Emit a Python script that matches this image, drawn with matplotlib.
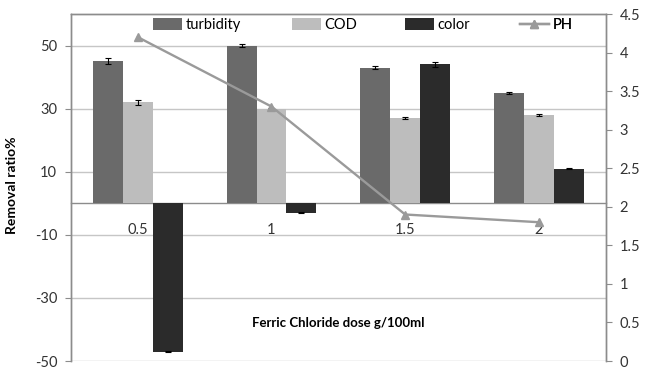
import numpy as np
import matplotlib.pyplot as plt

plt.rcParams['font.family'] = ['Lato', 'DejaVu Sans']
plt.rcParams['axes.unicode_minus'] = False

doses = ['0.5', '1', '1.5', '2']
turbidity = [45, 50, 43, 35]
turbidity_err = [1.0, 0.4, 0.4, 0.2]
cod = [32, 30, 27, 28]
cod_err = [0.7, 0.2, 0.2, 0.3]
color = [-47, -3, 44, 11]
color_err = [0.3, 0.2, 0.7, 0.2]
ph = [4.2, 3.3, 1.9, 1.8]

grey_axis = '#8c8c8c'
grid_c = '#c6c6c6'

fig = plt.figure(figsize=(6.48, 3.70), dpi=100)
ax = fig.add_axes([0.1096, 0.0243, 0.8250, 0.9378])
ax2 = ax.twinx()

x = np.arange(len(doses))
w = 0.224
ekw = dict(ecolor='black', capsize=2.5, elinewidth=0.8, capthick=0.8)
ax.bar(x - w, turbidity, w, yerr=turbidity_err, color='#6a6a6a', label='turbidity', error_kw=ekw, zorder=3)
ax.bar(x, cod, w, yerr=cod_err, color='#bdbdbd', label='COD', error_kw=ekw, zorder=3)
ax.bar(x + w, color, w, yerr=color_err, color='#2b2b2b', label='color', error_kw=ekw, zorder=3)

ax2.plot(x, ph, color='#9a9a9a', lw=1.7, marker='^', ms=6, label='PH', zorder=4)

ax.set_xlim(-0.5, 3.5)
ax.set_ylim(-50, 60)
ax.set_yticks([-50, -30, -10, 10, 30, 50])
ax.yaxis.grid(True, color=grid_c, lw=1.0, zorder=0)
ax.set_axisbelow(True)
ax2.set_ylim(0, 4.5)
ax2.set_yticks(np.arange(0, 4.51, 0.5))
ax2.set_yticklabels(['0', '0.5', '1', '1.5', '2', '2.5', '3', '3.5', '4', '4.5'])

# category axis crosses at zero
ax.spines['bottom'].set_position(('data', 0))
ax.set_xticks(x)
ax.set_xticklabels(doses)
ax.tick_params(axis='x', length=0, pad=14, labelsize=10.5, colors='#333333')
ax.tick_params(axis='y', length=4, pad=6, labelsize=10.5, colors='#333333', color=grey_axis)
ax2.tick_params(axis='y', length=4, pad=6, labelsize=10.5, colors='#333333', color=grey_axis)
for a in (ax, ax2):
    for s in a.spines.values():
        s.set_color(grey_axis)
        s.set_linewidth(1.0)
ax2.spines['bottom'].set_visible(False)

ax.set_ylabel('Removal ratio%', fontsize=10, fontweight='bold')
ax.yaxis.set_label_coords(-0.099, 0.507)
ax.set_xlabel('Ferric Chloride dose g/100ml', fontsize=9.5, fontweight='bold')
ax.xaxis.set_label_coords(0.5, 0.127)

# one legend box per series, spread along the top of the plot
handles = ax.get_legend_handles_labels()[0] + ax2.get_legend_handles_labels()[0]
labels = ['turbidity', 'COD', 'color', 'PH']
xpos = [0.153, 0.413, 0.624, 0.839]
for h, lab, xp in zip(handles, labels, xpos):
    leg = ax2.legend([h], [lab], loc='center left', bbox_to_anchor=(xp, 0.968),
                     frameon=False, fontsize=10.5, handlelength=2.0, handleheight=0.8,
                     handletextpad=0.25, borderaxespad=0, borderpad=0)
    ax2.add_artist(leg)

fig.savefig('out.png', dpi=100)
